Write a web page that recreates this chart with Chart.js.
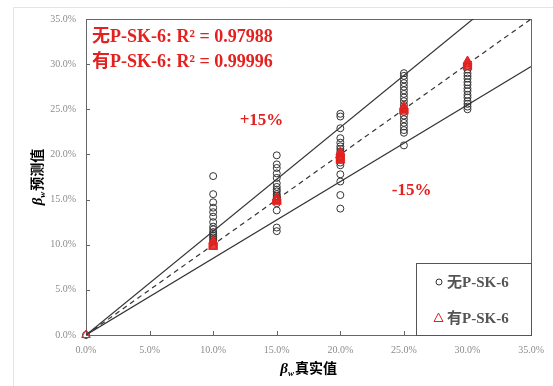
<!DOCTYPE html>
<html>
<head>
<meta charset="utf-8">
<script src="https://cdn.jsdelivr.net/npm/chart.js@4/dist/chart.umd.min.js"></script>
<style>
  html, body { margin: 0; padding: 0; background: #fff; }
  #wrap { width: 553px; height: 386px; }
</style>
</head>
<body>
<div id="wrap"><canvas id="chart" width="553" height="386"></canvas></div>
<script>
// true values (%) on the x axis
const trueValues = [0, 10, 15, 20, 25, 30];

// predicted values (%) without P-SK-6, one list per true value
const predNo0 = [0];
const predNo10 = [17.6, 15.6, 14.7, 14.1, 13.6, 13.1, 12.5, 12.0, 11.7, 11.4, 11.2, 11.0, 10.8, 10.6, 10.4];
const predNo15 = [19.9, 18.9, 18.5, 17.9, 17.4, 16.8, 16.4, 16.1, 15.9, 15.6, 15.4, 15.2, 14.9, 14.6, 13.8, 11.9, 11.5];
const predNo20 = [24.5, 24.2, 22.9, 21.8, 21.3, 20.9, 20.6, 20.3, 20.0, 19.7, 19.4, 19.1, 18.8, 17.8, 17.0, 15.5, 14.0];
const predNo25 = [29.0, 28.7, 28.3, 27.9, 27.5, 27.1, 26.7, 26.3, 25.9, 25.5, 25.1, 24.7, 24.3, 23.9, 23.5, 23.1, 22.7, 22.4, 21.0];
const predNo30 = [29.8, 29.4, 29.0, 28.7, 28.4, 28.0, 27.7, 27.3, 27.0, 26.6, 26.3, 25.9, 25.6, 25.3, 25.0];

// predicted values (%) with P-SK-6
const predYes0 = [0];
const predYes10 = [9.75, 9.85, 9.95, 10.05, 10.15, 10.25, 10.35, 10.45];
const predYes15 = [14.75, 14.85, 14.95, 15.05, 15.15, 15.25];
const predYes20 = [19.3, 19.4, 19.5, 19.6, 19.7, 19.8, 19.9, 20.0, 20.1, 20.2, 20.3];
const predYes25 = [24.75, 24.85, 24.95, 25.05, 25.15, 25.25, 25.35];
const predYes30 = [29.65, 29.75, 29.85, 29.95, 30.05, 30.15, 30.25, 30.35];

// reference lines: y = x, +15%, -15%
const lineEqual = [[0, 0], [35, 35]];
const linePlus15 = [[0, 0], [35, 40.25]];
const lineMinus15 = [[0, 0], [35, 29.75]];

const seriesNames = ['无P-SK-6', '有P-SK-6'];
const r2Labels = ['无P-SK-6: R² = 0.97988', '有P-SK-6: R² = 0.99996'];
const xTitle = '真实值';
const yTitle = '预测值';

const RED = '#e3211f';
const SERIF = '"Liberation Serif", "Noto Sans CJK SC"';

function toPoints(xs, lists) {
    const pts = [];
    xs.forEach((x, i) => lists[i].forEach(v => pts.push({ x: x, y: v })));
    return pts;
}
function toLine(pairs) {
    return pairs.map(p => ({ x: p[0], y: p[1] }));
}

// greek beta with subscript w followed by chinese text, centred at (cx, cy)
function drawBetaTitle(ctx, cx, cy, rest) {
    const fBeta = 'italic bold 15px "Liberation Serif"';
    const fSub = 'italic bold 9px "Liberation Serif"';
    const fRest = 'bold 14px "Noto Sans CJK SC"';
    ctx.font = fBeta; const wB = ctx.measureText('β').width;
    ctx.font = fSub; const wS = ctx.measureText('w').width + 1;
    ctx.font = fRest; const wR = ctx.measureText(rest).width;
    let x = cx - (wB + wS + wR) / 2;
    const base = cy + 5;
    ctx.fillStyle = '#000';
    ctx.textAlign = 'left';
    ctx.textBaseline = 'alphabetic';
    ctx.font = fBeta; ctx.fillText('β', x, base); x += wB;
    ctx.font = fSub; ctx.fillText('w', x, base + 3); x += wS;
    ctx.font = fRest; ctx.fillText(rest, x, base);
}

const decorPlugin = {
    id: 'decor',
    beforeDraw(chart) {
        const ctx = chart.ctx;
        ctx.save();
        ctx.strokeStyle = '#e4e4e4';
        ctx.lineWidth = 1;
        ctx.beginPath();
        ctx.moveTo(13.5, 386);
        ctx.lineTo(13.5, 7.5);
        ctx.lineTo(553, 7.5);
        ctx.stroke();
        ctx.restore();
    },
    beforeDatasetsDraw(chart) {
        const { ctx, chartArea: a, scales: { x, y } } = chart;
        ctx.save();
        // plot frame
        ctx.strokeStyle = '#666';
        ctx.lineWidth = 1;
        ctx.strokeRect(Math.round(a.left) + 0.5, Math.round(a.top) + 0.5,
            Math.round(a.right - a.left), Math.round(a.bottom - a.top));

        // inward tick marks
        ctx.beginPath();
        x.ticks.forEach(t => {
            const px = Math.round(x.getPixelForValue(t.value)) + 0.5;
            ctx.moveTo(px, a.bottom); ctx.lineTo(px, a.bottom - 4);
        });
        y.ticks.forEach(t => {
            const py = Math.round(y.getPixelForValue(t.value)) + 0.5;
            ctx.moveTo(a.left, py); ctx.lineTo(a.left + 4, py);
        });
        ctx.stroke();
        ctx.restore();
    },
    afterDraw(chart) {
        const { ctx, chartArea: a, scales: { x, y } } = chart;
        ctx.save();

        // R² annotations
        ctx.fillStyle = RED;
        ctx.font = 'bold 18px ' + SERIF;
        ctx.textAlign = 'left';
        ctx.textBaseline = 'alphabetic';
        ctx.fillText(r2Labels[0], a.left + 6, a.top + 23);
        ctx.fillText(r2Labels[1], a.left + 6, a.top + 48);

        // band labels
        ctx.font = 'bold 17px ' + SERIF;
        ctx.textAlign = 'center';
        ctx.textBaseline = 'middle';
        ctx.fillText('+15%', x.getPixelForValue(13.8), y.getPixelForValue(23.7));
        ctx.fillText('-15%', x.getPixelForValue(25.6), y.getPixelForValue(16.0));

        // legend box
        const lx = 416.5, ly = 263.5;
        ctx.fillStyle = '#fff';
        ctx.fillRect(lx, ly, Math.round(a.right) - lx + 0.5, Math.round(a.bottom) - ly + 0.5);
        ctx.lineWidth = 1;
        ctx.strokeStyle = '#555';
        ctx.strokeRect(lx, ly, Math.round(a.right) - lx + 0.5, Math.round(a.bottom) - ly + 0.5);
        ctx.strokeStyle = '#333';
        ctx.beginPath();
        ctx.arc(439, 282, 3, 0, Math.PI * 2);
        ctx.stroke();
        ctx.strokeStyle = RED;
        ctx.beginPath();
        ctx.moveTo(438.5, 313); ctx.lineTo(443, 321.5); ctx.lineTo(434, 321.5); ctx.closePath();
        ctx.stroke();
        ctx.fillStyle = '#555';
        ctx.font = 'bold 15px ' + SERIF;
        ctx.textAlign = 'left';
        ctx.textBaseline = 'middle';
        ctx.fillText(seriesNames[0], 447, 283);
        ctx.fillText(seriesNames[1], 447, 319);

        // axis titles
        drawBetaTitle(ctx, (a.left + a.right) / 2, 368, xTitle);
        ctx.translate(37, (a.top + a.bottom) / 2);
        ctx.rotate(-Math.PI / 2);
        drawBetaTitle(ctx, 0, 0, yTitle);

        ctx.restore();
    }
};

const pctAxis = (axisSize, isX) => ({
    type: 'linear',
    min: 0,
    max: 35,
    grid: { display: false, drawTicks: false },
    border: { display: false },
    ticks: {
        stepSize: 5,
        padding: isX ? 9 : 10,
        color: '#8c8c8c',
        font: { family: '"Liberation Serif"', size: 10 },
        callback: v => v.toFixed(1) + '%'
    },
    afterFit(scale) {
        if (isX) scale.height = axisSize; else scale.width = axisSize;
    }
});

new Chart(document.getElementById('chart'), {
    type: 'scatter',
    data: {
        datasets: [
            {
                label: seriesNames[1],
                data: toPoints(trueValues, [predYes0, predYes10, predYes15, predYes20, predYes25, predYes30]),
                pointStyle: 'triangle',
                pointRadius: 5,
                borderColor: RED,
                borderWidth: 1,
                backgroundColor: 'rgba(0,0,0,0)',
                clip: false
            },
            {
                label: seriesNames[0],
                data: toPoints(trueValues, [predNo0, predNo10, predNo15, predNo20, predNo25, predNo30]),
                pointStyle: 'circle',
                pointRadius: 3.5,
                borderColor: '#333',
                borderWidth: 1,
                backgroundColor: 'rgba(0,0,0,0)',
                clip: false
            },
            {
                label: 'y=x',
                data: toLine(lineEqual),
                showLine: true,
                pointRadius: 0,
                borderColor: '#333',
                borderWidth: 1.2,
                borderDash: [5, 4]
            },
            {
                label: '+15%',
                data: toLine(linePlus15),
                showLine: true,
                pointRadius: 0,
                borderColor: '#333',
                borderWidth: 1.2
            },
            {
                label: '-15%',
                data: toLine(lineMinus15),
                showLine: true,
                pointRadius: 0,
                borderColor: '#333',
                borderWidth: 1.2
            }
        ]
    },
    options: {
        responsive: false,
        animation: false,
        layout: { padding: { left: 0, right: 21, top: 19, bottom: 0 } },
        plugins: {
            legend: { display: false },
            tooltip: { enabled: false }
        },
        scales: {
            x: pctAxis(51, true),
            y: pctAxis(86, false)
        }
    },
    plugins: [decorPlugin]
});
</script>
</body>
</html>
